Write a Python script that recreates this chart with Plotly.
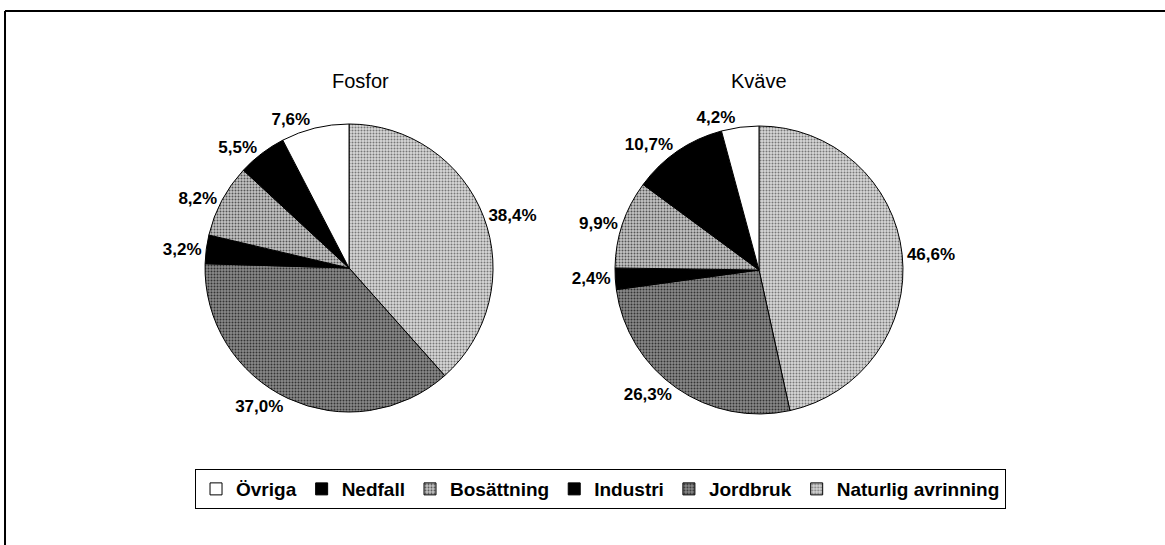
import plotly.graph_objects as go

# slices run clockwise from 12 o'clock; the legend lists them in reverse
kallor = ["Naturlig avrinning", "Jordbruk", "Industri", "Bosättning", "Nedfall", "Övriga"]
fosfor = [38.4, 37.0, 3.2, 8.2, 5.5, 7.6]
kvave = [46.6, 26.3, 2.4, 9.9, 10.7, 4.2]
rubriker = ["Fosfor", "Kväve"]

fyllning = ["#d8d8d8", "#8a8a8a", "black", "#c4c4c4", "black", "white"]
monster = [".", ".", "", ".", "", ""]
monster_farg = ["#777777", "#333333", "black", "#555555", "black", "white"]

FONT = "Liberation Sans, Arial, sans-serif"


def etiketter(values):
    # Swedish decimal comma
    return [f"{v:.1f}%".replace(".", ",") for v in values]


def pie_trace(values, domain):
    return go.Pie(
        labels=kallor,
        values=values,
        text=etiketter(values),
        textinfo="text",
        textposition="outside",
        outsidetextfont=dict(family=FONT, size=17, color="black", weight="bold"),
        sort=False,
        direction="clockwise",
        rotation=0,
        hoverinfo="label+text",
        marker=dict(
            colors=fyllning,
            line=dict(color="black", width=1),
            pattern=dict(shape=monster, fgcolor=monster_farg, bgcolor=fyllning,
                         size=3, solidity=0.35),
        ),
        domain=domain,
    )


fig = go.Figure()
fig.add_trace(pie_trace(fosfor, dict(x=[0.1760, 0.4232], y=[0.2440, 0.7725])))
fig.add_trace(pie_trace(kvave, dict(x=[0.5279, 0.7751], y=[0.2404, 0.7688])))

for namn, xpos in zip(rubriker, [0.2833, 0.6515]):
    fig.add_annotation(text=namn, x=xpos, y=0.875, xref="paper", yref="paper",
                       showarrow=False, font=dict(family=FONT, size=20, color="black"))

# outer frame: only left and top edges are visible in the scan
fig.add_shape(type="line", xref="paper", yref="paper", x0=0.0043, x1=1.0, y0=0.98, y1=0.98,
              line=dict(color="black", width=2))
fig.add_shape(type="line", xref="paper", yref="paper", x0=0.0043, x1=0.0043, y0=0.0, y1=0.98,
              line=dict(color="black", width=2))

fig.update_layout(
    width=1165,
    height=545,
    margin=dict(l=0, r=0, t=0, b=0),
    paper_bgcolor="white",
    plot_bgcolor="white",
    font=dict(family=FONT, color="black"),
    legend=dict(
        orientation="h",
        traceorder="reversed",
        x=0.1674, y=0.1394, xanchor="left", yanchor="top",
        bordercolor="black", borderwidth=1,
        font=dict(family=FONT, size=19, color="black", weight="bold"),
        itemwidth=30,
    ),
)

fig.write_html("out.html", config={"displayModeBar": False},
               post_script="document.body.style.margin='0';")
